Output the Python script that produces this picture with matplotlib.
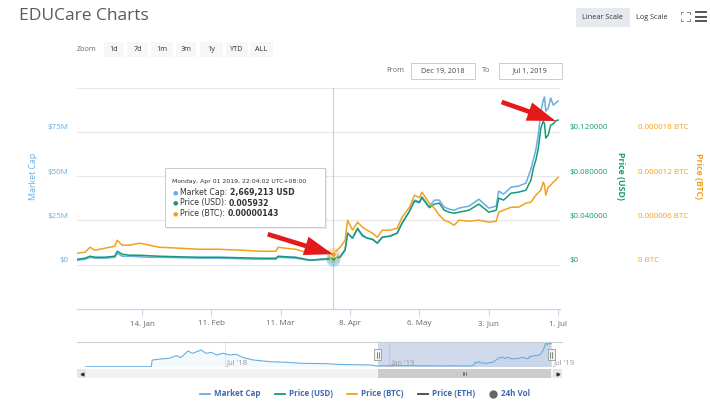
import matplotlib
matplotlib.use("Agg")
import matplotlib.pyplot as plt
from matplotlib.patches import Rectangle
from matplotlib.lines import Line2D
from matplotlib.text import Annotation
from matplotlib.transforms import blended_transform_factory, ScaledTranslation
import matplotlib.dates as mdates
import numpy as np
import pandas as pd

plt.rcParams['font.family'] = ['Open Sans', 'DejaVu Sans']

# ---------------- data ----------------
dates = ["2018-12-19", "2018-12-22", "2018-12-24", "2018-12-26", "2018-12-30",
         "2019-01-03", "2019-01-04", "2019-01-06", "2019-01-09", "2019-01-13",
         "2019-01-17", "2019-01-21", "2019-01-29", "2019-02-06", "2019-02-14",
         "2019-02-23", "2019-03-03", "2019-03-09", "2019-03-10", "2019-03-13",
         "2019-03-17", "2019-03-21", "2019-03-23", "2019-03-27", "2019-03-30",
         "2019-04-01", "2019-04-04", "2019-04-06", "2019-04-07", "2019-04-09",
         "2019-04-11", "2019-04-13", "2019-04-15", "2019-04-17", "2019-04-19",
         "2019-04-21", "2019-04-24", "2019-04-27", "2019-04-29", "2019-05-02",
         "2019-05-04", "2019-05-06", "2019-05-07", "2019-05-10", "2019-05-12",
         "2019-05-14", "2019-05-16", "2019-05-18", "2019-05-20", "2019-05-22",
         "2019-05-26", "2019-05-30", "2019-06-03", "2019-06-06", "2019-06-07",
         "2019-06-09", "2019-06-12", "2019-06-15", "2019-06-18", "2019-06-20",
         "2019-06-21", "2019-06-22", "2019-06-23", "2019-06-24", "2019-06-25",
         "2019-06-25 12:00", "2019-06-26", "2019-06-27", "2019-06-28", "2019-06-29",
         "2019-06-30", "2019-07-01"]

market_cap_m = [2.5, 3.1, 4.2, 3.7, 3.7, 4.2, 6.5, 4.8, 4.8, 4.5,
                4.2, 4.2, 4.0, 3.7, 3.7, 3.4, 3.1, 3.1, 4.2, 4.0,
                3.7, 2.8, 2.5, 2.8, 3.1, 2.669213, 4.8, 8.8, 17.8, 15.0,
                20.1, 16.1, 15.0, 14.4, 12.2, 15.6, 16.1, 17.8, 23.5, 30.3,
                36.5, 35.6, 38.5, 32.8, 36.5, 36.5, 32.5, 31.4, 30.8, 32.0,
                33.1, 37.0, 32.0, 33.1, 41.6, 39.9, 43.8, 44.4, 46.1, 54.0,
                59.4, 65.0, 73.5, 86.3, 93.0, 94.7, 86.8, 88.5, 94.2, 90.2, 91.3, 92.5]

price_usd = [0.0050, 0.0059, 0.0077, 0.0068, 0.0068, 0.0077, 0.0122, 0.0095, 0.0086, 0.0086,
             0.0081, 0.0077, 0.0072, 0.0068, 0.0068, 0.0063, 0.0059, 0.0059, 0.0077, 0.0072,
             0.0068, 0.0050, 0.0041, 0.0050, 0.0054, 0.005932, 0.0068, 0.0131, 0.0285, 0.0240,
             0.0330, 0.0267, 0.0240, 0.0231, 0.0195, 0.0249, 0.0258, 0.0285, 0.0376, 0.0484,
             0.0575, 0.0561, 0.0606, 0.0516, 0.0548, 0.0557, 0.0493, 0.0475, 0.0466, 0.0475,
             0.0493, 0.0548, 0.0475, 0.0493, 0.0602, 0.0584, 0.0647, 0.0656, 0.0674, 0.0765,
             0.0873, 0.0946, 0.1054, 0.1235, 0.1299, 0.1272, 0.1145, 0.1172, 0.1262, 0.1272, 0.1299, 0.1308]

price_btc_e6 = [1.56, 1.70, 2.37, 1.97, 2.24, 2.51, 3.32, 2.65, 2.65, 2.92,
                2.65, 2.37, 2.24, 2.10, 2.10, 1.97, 1.83, 1.83, 2.37, 2.24,
                2.10, 1.70, 1.70, 1.56, 1.83, 1.43, 2.37, 3.32, 6.04, 4.68,
                5.77, 5.09, 4.68, 4.27, 3.73, 4.68, 4.68, 4.95, 6.45, 7.80,
                9.43, 9.09, 9.84, 8.35, 7.67, 6.72, 6.04, 5.77, 5.36, 6.04,
                5.90, 6.04, 5.77, 5.90, 7.12, 7.40, 7.80, 7.80, 8.35, 8.48,
                8.96, 9.43, 9.77, 10.11, 11.20, 10.79, 9.43, 10.52, 10.79, 11.20, 11.47, 11.87]

# older market-cap history shown only in the navigator
nav_hist_dates = ["2018-01-27", "2018-04-10", "2018-04-11", "2018-04-21", "2018-04-30",
                  "2018-05-08", "2018-05-13", "2018-05-21", "2018-05-26", "2018-06-05",
                  "2018-06-10", "2018-06-16", "2018-06-22", "2018-06-29", "2018-07-07",
                  "2018-07-14", "2018-07-22", "2018-08-02", "2018-08-21", "2018-09-08",
                  "2018-09-27", "2018-10-23", "2018-11-03", "2018-12-11"]
nav_hist_mc_m = [0, 0, 26.4, 30.4, 33.0, 43.6, 35.7, 62.0, 52.9, 66.0,
                 52.9, 56.8, 46.3, 52.9, 46.3, 48.9, 35.7, 26.4, 19.8, 17.2,
                 13.2, 11.9, 9.3, 6.6]

x_tick_dates = ["2019-01-14", "2019-02-11", "2019-03-11", "2019-04-08",
                "2019-05-06", "2019-06-03", "2019-07-01"]
mc_ticks = [0, 25, 50, 75]
mc_tick_labels = ["$0", "$25M", "$50M", "$75M"]
usd_ticks = [0, 0.04, 0.08, 0.12]
usd_tick_labels = ["$0", "$0.040000", "$0.080000", "$0.120000"]
btc_ticks = [0, 6e-6, 12e-6, 18e-6]
btc_tick_labels = ["0 BTC", "0.000006 BTC", "0.000012 BTC", "0.000018 BTC"]
nav_tick_dates = ["2018-07-01", "2019-01-01", "2019-07-01"]
hover_date = "2019-04-01"
hover_label = "Monday, Apr 01 2019, 22:04:02 UTC+08:00"
arrow2_date = "2019-06-30"
zoom_buttons = ["1d", "7d", "1m", "3m", "1y", "YTD", "ALL"]
legend_items = ["Market Cap", "Price (USD)", "Price (BTC)", "Price (ETH)", "24h Vol"]

# ---------------- styling ----------------
C_MC = '#6aaee0'
C_USD = '#17997a'
C_BTC = '#f2a11c'
C_ETH = '#434348'
C_VOL = '#666666'
C_RED = '#e3191c'
GRID = '#e6e6e6'
AXLINE = '#ccd6eb'
TICKC = '#666666'

W, H = 710, 405
fig = plt.figure(figsize=(W / 100, H / 100), dpi=100)
fig.patch.set_facecolor('white')


def fx(x):
    return x / W


def fy(y):
    return 1 - y / H


def box(x0, y0, x1, y1):
    return [fx(x0), fy(y1), (x1 - x0) / W, (y1 - y0) / H]


def frect(x0, y0, x1, y1, **kw):
    r = Rectangle((fx(x0), fy(y1)), (x1 - x0) / W, (y1 - y0) / H,
                  transform=fig.transFigure, **kw)
    fig.add_artist(r)
    return r


def ftext(x, y, s, **kw):
    kw.setdefault('va', 'center')
    return fig.text(fx(x), fy(y), s, **kw)


def fline(xs, ys, **kw):
    fig.add_artist(Line2D([fx(v) for v in xs], [fy(v) for v in ys],
                          transform=fig.transFigure, **kw))


t = pd.to_datetime(dates, format='ISO8601')
mc = np.array(market_cap_m)
usd = np.array(price_usd)
btc = np.array(price_btc_e6) * 1e-6

# ---------------- main chart ----------------
ax = fig.add_axes(box(77, 87.7, 560, 309))
ax.set_xlim(pd.Timestamp('2018-12-18 18:00'), pd.Timestamp('2019-07-01 18:00'))
ax.set_ylim(-25, 100)
ax.set_facecolor('none')
for s in ['left', 'right', 'top']:
    ax.spines[s].set_visible(False)
ax.spines['bottom'].set_color(AXLINE)
ax.spines['bottom'].set_linewidth(0.9)
ax.set_yticks([0, 25, 50, 75, 100])
ax.tick_params(axis='y', length=0, labelleft=False)
ax.grid(axis='y', color=GRID, lw=0.8)
ax.set_axisbelow(True)
xt = pd.to_datetime(x_tick_dates)
ax.set_xticks(xt)
ax.set_xticklabels([f"{d.day}. {d:%b}" for d in xt])
ax.tick_params(axis='x', length=5, width=0.8, color=AXLINE, labelsize=5.8,
               labelcolor=TICKC, pad=3)

hover = pd.Timestamp(hover_date)
ax.axvline(hover, color='#cccccc', lw=0.8, zorder=1)

ax.plot(t, mc, color=C_MC, lw=1.1, zorder=3)

ax2 = ax.twinx()
ax2.set_ylim(-0.04, 0.16)
ax2.axis('off')
ax2.plot(t, usd, color=C_USD, lw=1.1)

ax3 = ax.twinx()
ax3.set_ylim(-6e-6, 24e-6)
ax3.axis('off')
ax3.plot(t, btc, color=C_BTC, lw=1.1)

hi = dates.index(hover_date)
for a, vals, c in [(ax, mc, C_MC), (ax2, usd, C_USD), (ax3, btc, C_BTC)]:
    a.plot([t[hi]], [vals[hi]], 'o', ms=10, color=c, alpha=0.25, mec='none', zorder=5)
    a.plot([t[hi]], [vals[hi]], 'o', ms=4, color=c, mec='white', mew=0.5, zorder=6)

# y-axis labels (sit a little above the grid lines, like the original)
up = ScaledTranslation(0, 4 / 100, fig.dpi_scale_trans)
tr1 = blended_transform_factory(fig.transFigure, ax.transData) + up
tr2 = blended_transform_factory(fig.transFigure, ax2.transData) + up
tr3 = blended_transform_factory(fig.transFigure, ax3.transData) + up
for v, s in zip(mc_ticks, mc_tick_labels):
    fig.text(fx(68), v, s, transform=tr1, ha='right', va='center', fontsize=5.8, color=C_MC)
for v, s in zip(usd_ticks, usd_tick_labels):
    fig.text(fx(570), v, s, transform=tr2, ha='left', va='center', fontsize=5.8, color=C_USD)
for v, s in zip(btc_ticks, btc_tick_labels):
    fig.text(fx(638), v, s, transform=tr3, ha='left', va='center', fontsize=5.8, color=C_BTC)

ftext(33, 176, 'Market Cap', rotation=90, ha='center', fontsize=6.3, color=C_MC)
ftext(621, 176, 'Price (USD)', rotation=270, ha='center', fontsize=6.3, color=C_USD,
      fontweight='bold')
ftext(699, 176, 'Price (BTC)', rotation=270, ha='center', fontsize=6.3, color=C_BTC,
      fontweight='bold')

# red arrows
arrow_style = 'simple,head_length=1.7,head_width=1.15,tail_width=0.28'
ax3.annotate('', xy=(t[hi], btc[hi]), xytext=(-65, 20), textcoords='offset pixels',
             arrowprops=dict(arrowstyle=arrow_style, color=C_RED, lw=0,
                             shrinkA=0, shrinkB=0, mutation_scale=12), zorder=10)
a2 = dates.index(arrow2_date)
ax2.annotate('', xy=(t[a2], usd[a2]), xytext=(-54, 19), textcoords='offset pixels',
             arrowprops=dict(arrowstyle=arrow_style, color=C_RED, lw=0,
                             shrinkA=0, shrinkB=0, mutation_scale=12), zorder=10)

# tooltip
frect(166, 169, 327, 229, fc='black', alpha=0.07, lw=0)
frect(165, 168, 325, 227, fc='white', ec='#c8c8c8', lw=0.7)
ftext(172, 182, hover_label, fontsize=4.4, color='#333333', family='DejaVu Sans')
rows = [("Market Cap: ", f"{mc[hi] * 1e6:,.0f} USD", C_MC),
        ("Price (USD): ", f"{usd[hi]:.6f}", C_USD),
        ("Price (BTC): ", f"{btc[hi]:.8f}", C_BTC)]
for k, (lab, val, c) in enumerate(rows):
    yy = 192.5 + k * 10.5
    ftext(175, yy, '\u25cf', fontsize=4.5, color=c, ha='center', family='DejaVu Sans')
    lt = ftext(180, yy, lab, fontsize=5.6, color='#333333', family='DejaVu Sans')
    fig.add_artist(Annotation(val, xy=(1, 0), xycoords=lt, va='bottom', ha='left',
                              fontsize=5.6, fontweight='bold', color='#333333',
                              family='DejaVu Sans'))

# ---------------- header UI ----------------
ftext(19, 16.5, 'EDUCare Charts', fontsize=12.5, color='#5a5a5a')
frect(576, 8, 630, 27, fc='#e6e9ef', lw=0)
ftext(603, 17.5, 'Linear Scale', ha='center', fontsize=5.2, color='#333333')
ftext(652, 17.5, 'Log Scale', ha='center', fontsize=5.2, color='#333333')
# fullscreen icon
cx, cy, r, arm = 685, 16.5, 4.5, 2.2
for sx in (-1, 1):
    for sy in (-1, 1):
        fline([cx + sx * r, cx + sx * r, cx + sx * (r - arm)],
              [cy + sy * (r - arm), cy + sy * r, cy + sy * r], color='#888888', lw=0.7)
for yy in (12, 16.5, 21):
    fline([696, 706], [yy, yy], color='#555555', lw=1.4)

ftext(77, 49.5, 'Zoom', fontsize=5.2, color='#666666')
bx = [(104, 124), (127, 148), (151, 173), (176, 196), (200, 223), (226, 248), (250, 273)]
for (x0, x1), lab in zip(bx, zoom_buttons):
    frect(x0, 42, x1, 57, fc='#f7f7f7', lw=0)
    ftext((x0 + x1) / 2, 49.5, lab, ha='center', fontsize=5.2, color='#333333')

d0, d1 = t[0], t[-1]
ftext(386, 71, 'From', fontsize=5.2, color='#666666')
frect(411, 63, 475, 79, fc='white', ec='#cccccc', lw=0.7)
ftext(443, 71, f"{d0:%b} {d0.day}, {d0.year}", ha='center', fontsize=5.2, color='#444444')
ftext(482, 71, 'To', fontsize=5.2, color='#666666')
frect(499, 63, 562, 79, fc='white', ec='#cccccc', lw=0.7)
ftext(530.5, 71, f"{d1:%b} {d1.day}, {d1.year}", ha='center', fontsize=5.2, color='#444444')

# ---------------- navigator ----------------
nav_t = pd.to_datetime(nav_hist_dates).append(t)
nav_v = np.concatenate([np.array(nav_hist_mc_m), mc])
nav_xlim = (pd.Timestamp('2018-01-17'), pd.Timestamp('2019-07-13'))

axn = fig.add_axes(box(77, 342, 562, 367))
axn.set_xlim(*nav_xlim)
axn.set_ylim(-1.2, 97.5)
for s in ['left', 'right', 'bottom']:
    axn.spines[s].set_visible(False)
axn.spines['top'].set_color('#cccccc')
axn.spines['top'].set_linewidth(0.8)
axn.set_xticks([])
axn.set_yticks([])
nt = pd.to_datetime(nav_tick_dates)
for d in nt:
    axn.axvline(d, color=GRID, lw=0.8, zorder=0)
    axn.annotate(f"{d:%b} '{d:%y}", xy=(d, 0.16), xycoords=('data', 'axes fraction'),
                 xytext=(2, 0), textcoords='offset pixels', va='center', ha='left',
                 fontsize=5.5, color='#999999', annotation_clip=False)
axn.fill_between(nav_t, 0, nav_v, color=C_MC, alpha=0.07, lw=0)
axn.plot(nav_t, nav_v, color=C_MC, lw=0.8)
axn.axvspan(t[0], t[-1], color='#6685c2', alpha=0.3, lw=0)
trn = blended_transform_factory(axn.transData, axn.transAxes)
hw = 4.0
for d in (t[0], t[-1]):
    dn = mdates.date2num(d)
    axn.add_patch(Rectangle((dn - hw, 0.28), 2 * hw, 0.44, transform=trn,
                            fc='#f2f2f2', ec='#999999', lw=0.6, zorder=5))
    for off in (-1.2, 1.2):
        axn.plot([dn + off, dn + off], [0.38, 0.62], transform=trn, color='#333333',
                 lw=0.4, zorder=6)

# scrollbar
axs = fig.add_axes(box(77, 369, 562, 378))
axs.set_xlim(*nav_xlim)
axs.set_ylim(0, 1)
axs.axis('off')
axs.add_patch(Rectangle((0, 0), 1, 1, transform=axs.transAxes, fc='#f2f2f2', lw=0))
axs.axvspan(t[0], t[-1], color='#cccccc', lw=0)
bw = 9 / 485
axs.add_patch(Rectangle((0, 0), bw, 1, transform=axs.transAxes, fc='#e6e6e6', lw=0))
axs.add_patch(Rectangle((1 - bw, 0), bw, 1, transform=axs.transAxes, fc='#e6e6e6', lw=0))
axs.plot([bw / 2], [0.5], marker='<', ms=2, color='#333333', transform=axs.transAxes)
axs.plot([1 - bw / 2], [0.5], marker='>', ms=2, color='#333333', transform=axs.transAxes)
mid = mdates.date2num(t[0]) + (mdates.date2num(t[-1]) - mdates.date2num(t[0])) / 2
for off in (-2, 0, 2):
    axs.plot([mid + off, mid + off], [0.3, 0.7], color='#333333', lw=0.4)

# ---------------- legend ----------------
leg_color = '#3f69ad'
leg_x = [(200, 214), (275, 289), (347, 361), (418, 432)]
leg_c = [C_MC, C_USD, C_BTC, C_ETH]
for (x0, xtx), c, lab in zip(leg_x, leg_c, legend_items[:4]):
    fline([x0, x0 + 10], [394, 394], color=c, lw=1.3)
    ftext(xtx, 394, lab, fontsize=5.8, fontweight='bold', color=leg_color)
fig.add_artist(Line2D([fx(493)], [fy(394)], marker='o', ms=5, color=C_VOL,
                      transform=fig.transFigure))
ftext(501, 394, legend_items[4], fontsize=5.8, fontweight='bold', color=leg_color)

fig.savefig('out.png', dpi=100, facecolor='white')
